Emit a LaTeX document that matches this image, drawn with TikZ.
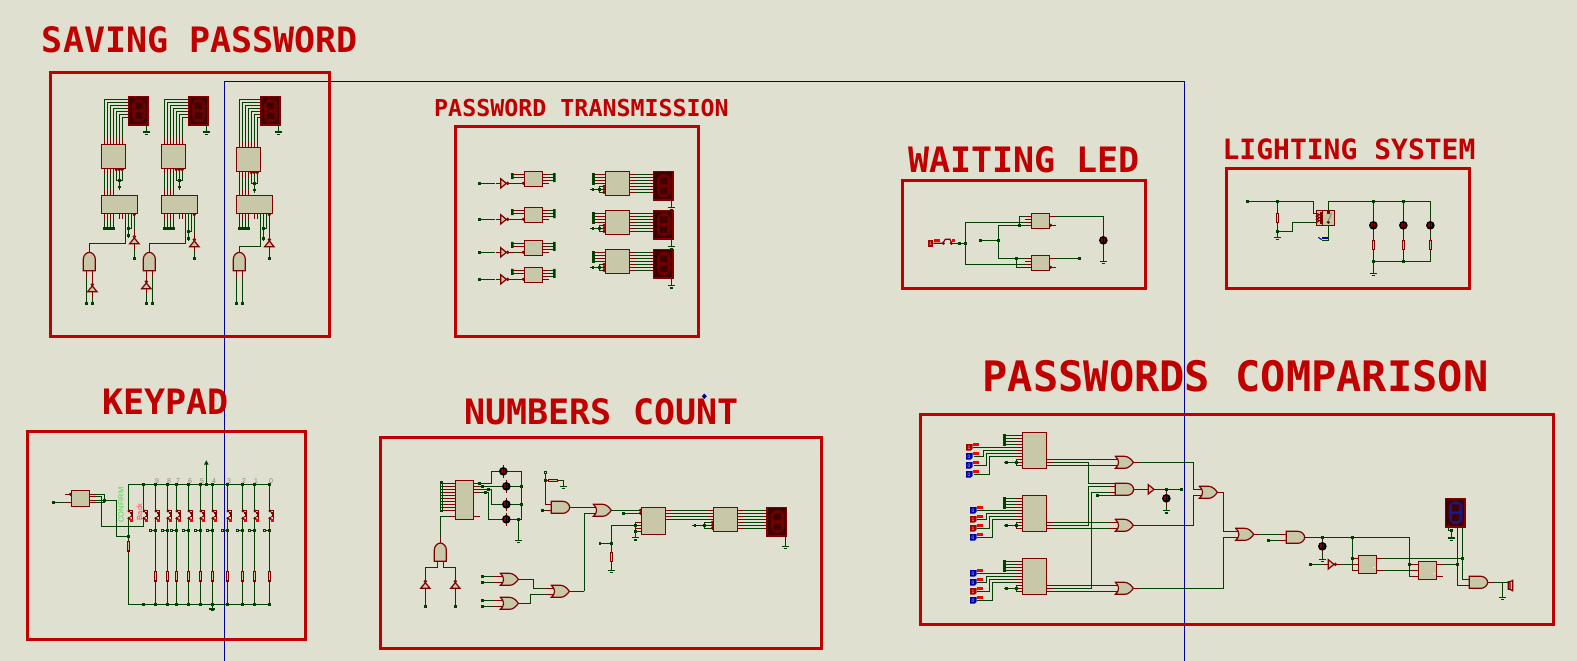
\documentclass[tikz,border=0pt]{standalone}
\usepackage{fontspec}
\newfontfamily\titlefont{DejaVu Sans Mono}
\setsansfont{Liberation Sans}
\usetikzlibrary{fit}
\definecolor{sheet}{RGB}{223,224,208}
\definecolor{framered}{RGB}{192,0,0}
\definecolor{wiregreen}{RGB}{0,64,0}
\definecolor{pinred}{RGB}{128,0,0}
\definecolor{chipfill}{RGB}{200,200,168}
\definecolor{gridblue}{RGB}{0,0,160}
\definecolor{segback}{RGB}{64,0,0}
\definecolor{segred}{RGB}{112,0,0}
\definecolor{segblue}{RGB}{24,24,128}
\definecolor{statblue}{RGB}{0,0,170}
\definecolor{statred}{RGB}{170,0,0}
\definecolor{tabred}{RGB}{255,0,0}
\definecolor{keygrey}{RGB}{125,140,115}
\definecolor{confgreen}{RGB}{70,215,70}
\definecolor{backred}{RGB}{240,70,90}
\tikzset{
  sym/.style={transform shape},
  wire/.style={draw=wiregreen,line width=1.2pt},
  pinline/.style={draw=pinred,line width=1.2pt},
  chip/.style={draw=pinred,fill=chipfill,line width=1.2pt,inner sep=0pt},
  sheetframe/.style={draw=framered,line width=3pt},
  titletext/.style={text=framered,inner sep=0pt},
  bubble/.style={draw=pinred,fill=chipfill,line width=1pt},
  pics/jn/.style={code={\fill[wiregreen] (-4,-4) rectangle (4,4);}},
  pics/gnd/.style={code={\draw[wire] (-11,0) -- (11,0) (-5,7) -- (5,7);}},
  pics/res/.style={code={
    \draw[pinline] (0,-20) -- (0,20);
    \draw[pinline,fill=chipfill] (-3.5,-14) rectangle (3.5,14);}},
  pics/lamp/.style={code={
    \draw[pinline] (0,-20) -- (0,20);
    \fill[black] (0,0) circle (13);
    \fill[pinred] (-6,-6) rectangle (6,6);
    \fill[black] (-1.5,-6) rectangle (1.5,6);}},
  pics/andg/.style={code={
    \draw[pinline] (-18,-9) -- (0,-9) (-18,9) -- (0,9) (55,0) -- (70,0);
    \draw[chip] (0,-18) -- (35,-18) .. controls (46,-18) and (55,-8) .. (55,0)
      .. controls (55,8) and (46,18) .. (35,18) -- (0,18) -- cycle;}},
  pics/org/.style={code={
    \draw[pinline] (-18,-9) -- (8,-9) (-18,9) -- (8,9) (54,0) -- (70,0);
    \draw[chip] (0,-18) -- (28,-18) .. controls (40,-18) and (49,-7) .. (54,0)
      .. controls (49,7) and (40,18) .. (28,18) -- (0,18)
      .. controls (13,8) and (13,-8) .. cycle;}},
  pics/invg/.style={code={
    \draw[pinline] (-15,0) -- (0,0) (25,0) -- (40,0);
    \draw[chip] (0,-14) -- (17,0) -- (0,14) -- cycle;
    \draw[bubble] (21,0) circle (3.5);}},
  pics/bufg/.style={code={
    \draw[pinline] (-15,0) -- (0,0) (17,0) -- (32,0);
    \draw[chip] (0,-14) -- (17,0) -- (0,14) -- cycle;}},
  pics/segdisp/.style={code={
    \draw[pinline,fill=segback] (0,0) rectangle (59,86);
    \fill[#1,rounded corners=7] (11,8) rectangle (52,78);
    \fill[segback] (20,18) rectangle (42,38) (20,48) rectangle (42,68);}},
  pics/keysw/.style={code={
    \fill[sheet] (-3,-10) rectangle (3,5);
    \draw[pinline] (6,-16) -- (13,-16) -- (13,11) -- (6,11);
    \draw[pinline] (5,-8) -- (9,-8) -- (9,3) -- (5,3);
    \draw[bubble] (2,-14) circle (3) (2,8) circle (3);
    \fill[tabred] (6,11) rectangle (14,19);}},
  pics/lstate/.style 2 args={code={
    \fill[#2] (0,-10) -- (20,-10) -- (20,4) -- (14,10) -- (0,10) -- cycle;
    \fill[tabred] (22,-13) rectangle (38,-5);
    \node[text=white!75!#2,font=\sffamily\fontsize{15}{15}\selectfont,inner sep=0pt] (val) at (9,0) {#1};}}
}
\newcommand{\jn}[1]{\foreach \p in {#1} \pic[sym] at \p {jn};}
\newcommand{\stubl}[2]{\foreach \y in {#2} \draw[pinline] ({#1-18},\y) -- (#1,\y);}
\newcommand{\stubr}[2]{\foreach \y in {#2} \draw[pinline] (#1,\y) -- ({#1+18},\y);}
\newcommand{\stubd}[2]{\foreach \x in {#2} \draw[pinline] (\x,{#1}) -- (\x,{#1+18});}
\newcommand{\chipbox}[3]{\node[chip,fit={(#2)(#3)}] (#1) {};}
% one column of the saving block
\newcommand{\savecol}[8]{
\begin{scope}[shift={(#1,0)}]
\foreach \i in {0,...,6} \draw[wire] ({193+9*\i},#2) |- (#8,{118+9*\i});
\foreach \i in {0,...,6} \draw[pinline] ({193+9*\i},{#2-18}) -- ({193+9*\i},#2) (#8,{118+9*\i}) -- ({#8-8},{118+9*\i});
\pic[sym] at (#8,109) {segdisp=segred};
\draw[wire] ({#8+54},195) -- ({#8+54},216);
\pic[sym] at ({#8+54},216) {gnd};
\foreach \x in {193,202,211,220} \draw[wire] (\x,{#2+72}) -- (\x,406) (\x,460) -- (\x,505);
\stubd{#2+72}{193,202,211,220}
\stubd{388}{193,202,211,220}
\stubd{460}{193,202,211,220,238,247}
\fill[wiregreen] (190,501) rectangle (225,509);
\draw[wire] (229,{#2+76}) -- (229,{#2+108}) -- (247,{#2+108}) -- (247,{#2+76}) (238,{#2+76}) -- (238,{#2+136});
\draw[wire] (256,460) -- (256,#3) -- (#7,#3) -- (#7,577);
\draw[wire] (265,460) -- (265,{#5+8}) (274,460) -- (274,#4) -- (265,#4);
\draw[wire] (283,467) -- (283,595);
\chipbox{seta#1}{184,#2}{257,{#2+72}}
\chipbox{setb#1}{184,406}{293,460}
\foreach \x in {229,238,247} \draw[bubble] (\x,{#2+76}) circle (3);
\jn{(238,{#2+108}),(238,{#2+128}),(265,#4),(265,#5)}
\draw[bubble] (283,464) circle (3);
\pic[sym,rotate=90] at (283,#6) {invg};
\pic[sym] at (283,595) {jn};
\draw[wire] ({#7-9},632) -- ({#7-9},730) ({#7+9},632) -- ({#7+9},730);
\pic[sym,rotate=90] at (#7,632) {andg};
\jn{({#7-9},730),({#7+9},730)}
\end{scope}}
% small and large chip rows of the transmission block
\newcommand{\txsmall}[2]{
\begin{scope}[shift={(0,#1)}]
\draw[wire] (88,36) -- (135,36) (176,36) -- (205,36) (297,9) -- (313,9) (297,18) -- (313,18) (297,27) -- (313,27);
\pic[sym] at (152,36) {invg};
\stubl{223}{36}
\draw[pinline] (190,9) -- (223,9) (190,18) -- (223,18) (277,9) -- (297,9) (277,18) -- (297,18) (277,27) -- (297,27) (277,36) -- (297,36);
\chipbox{tx#2}{223,0}{277,45}
\draw[bubble] (220,36) circle (3);
\pic[sym] at (88,36) {jn};
\fill[wiregreen] (183,5) rectangle (191,23) (309,5) rectangle (317,32);
\end{scope}}
\newcommand{\txlarge}[2]{
\begin{scope}[shift={(0,#1)}]
\foreach \y in {9,18,...,63} \draw[wire] (555,\y) -- (610,\y);
\foreach \y in {9,18,...,63} \draw[pinline] (538,\y) -- (555,\y) (600,\y) -- (610,\y);
\draw[pinline] (435,9) -- (466,9) (435,18) -- (466,18) (435,27) -- (466,27) (435,36) -- (466,36);
\draw[wire] (460,45) -- (448,45) -- (448,63) -- (460,63) (420,54) -- (460,54);
\chipbox{dr#2}{466,0}{538,72}
\foreach \y in {45,54,63} \draw[bubble] (462,\y) circle (3);
\fill[wiregreen] (426,5) rectangle (435,40);
\jn{(448,54),(429,54)}
\pic[sym] at (610,0) {segdisp=segred};
\draw[wire] (664,87) -- (664,109);
\pic[sym] at (664,109) {gnd};
\end{scope}}
% comparator chip with its pins
\newcommand{\cmprow}[1]{
\begin{scope}[shift={(0,#1)}]
\foreach \y in {9,18,27,36} \draw[wire] (165,\y) -- (199,\y);
\stubl{217}{9,18,27,36,45,54,63,72,81,90,99}
\draw[wire] (199,81) -- (199,99) (163,90) -- (199,90);
\draw[wire] (290,81) -- (505,81) (290,99) -- (505,99);
\chipbox{cmp#1}{217,0}{290,108}
\stubr{290}{81,90,99}
\fill[wiregreen] (159,5) rectangle (167,41);
\jn{(199,90),(169,90)}
\end{scope}}
\begin{document}
\begin{tikzpicture}[x=1pt,y=-1pt]
\useasboundingbox (0,0) rectangle (1577,661);
\fill[sheet] (0,0) rectangle (1577,661);
\draw[gridblue,line width=1pt] (224.3,661) -- (224.3,81.5) -- (1184.5,81.5) -- (1184.5,661);
% titles
\node[titletext,font=\titlefont\bfseries\fontsize{35}{35}\selectfont] (tsave) at (200,40) {SAVING PASSWORD};
\node[titletext,font=\titlefont\bfseries\fontsize{23.3}{24}\selectfont] (ttrans) at (581.5,108) {PASSWORD TRANSMISSION};
\node[titletext,font=\titlefont\bfseries\fontsize{35}{35}\selectfont] (twait) at (1024,160) {WAITING LED};
\node[titletext,font=\titlefont\bfseries\fontsize{28}{28}\selectfont] (tlight) at (1349,149) {LIGHTING SYSTEM};
\node[titletext,font=\titlefont\bfseries\fontsize{35}{35}\selectfont] (tkeys) at (165.5,402) {KEYPAD};
\node[titletext,font=\titlefont\bfseries\fontsize{35}{35}\selectfont] (tcount) at (601.5,411.5) {NUMBERS COUNT};
\node[titletext,font=\titlefont\bfseries\fontsize{42}{42}\selectfont] (tcomp) at (1235.5,376) {PASSWORDS COMPARISON};
\fill[gridblue] (704.3,393.6) -- (706.8,396.3) -- (704.3,399) -- (701.8,396.3) -- cycle;
% frames
\draw[sheetframe] (50.7,72.7) rectangle (329.3,336.3);
\draw[sheetframe] (455.3,126.3) rectangle (698.3,336.3);
\draw[sheetframe] (902.3,180.3) rectangle (1145.7,288.3);
\draw[sheetframe] (1226.3,168.3) rectangle (1469.4,288.3);
\draw[sheetframe] (27,431) rectangle (305.3,639.7);
\draw[sheetframe] (380.5,437.5) rectangle (821.7,648.7);
\draw[sheetframe] (920.2,414.3) rectangle (1553.8,624.5);
% saving password
\begin{scope}[shift={(40,60)},scale=1/3]
\savecol{0}{253}{550}{505}{527}{551}{148}{265}
\savecol{180}{253}{550}{514}{535}{560}{148}{265}
\savecol{405}{262}{559}{505}{535}{560}{193}{256}
\pic[sym,rotate=90] at (157,695) {invg};
\pic[sym,rotate=90] at (319,686) {invg};
\end{scope}
% password transmission
\begin{scope}[shift={(450,120)},scale=1/3]
\txsmall{154}{a}
\txsmall{262}{b}
\txsmall{361}{c}
\txsmall{442}{d}
\txlarge{154}{a}
\txlarge{271}{b}
\txlarge{388}{c}
\end{scope}
% waiting led
\begin{scope}[shift={(900,170)},scale=1/3]
\draw[wire] (157,220) -- (196,220) (394,157) -- (196,157) -- (196,283) -- (394,283);
\draw[wire] (394,139) -- (358,139) -- (358,166) (394,166) -- (295,166) -- (295,265) -- (394,265) (241,211) -- (295,211);
\draw[wire] (349,265) -- (349,292) -- (394,292);
\draw[wire] (449,139) -- (610,139) -- (610,274) (449,265) -- (538,265);
\stubl{394}{139,148,157,166,265,274,283,292}
\stubr{449}{139,265}
\draw[pinline] (455,166) -- (467,166) (455,292) -- (467,292);
\chipbox{waita}{394,130}{449,176}
\chipbox{waitb}{394,256}{449,302}
\draw[bubble] (452,166) circle (3) (452,292) circle (3);
\jn{(178,220),(196,220),(358,166),(295,211),(241,211),(349,265),(538,265)}
\pic[sym] at (610,211) {lamp};
\pic[sym] at (610,274) {gnd};
\fill[statred] (84,210) rectangle (100,231);
\node[text=white!70!statred,font=\sffamily\fontsize{5}{5}\selectfont,inner sep=0pt] (waitval) at (92,220) {1};
\fill[tabred] (102,207) rectangle (120,216);
\fill[tabred] (156,208) rectangle (165,216);
\draw[pinline] (100,220) -- (127,220) (130,217) -- (136,208) -- (150,208) -- (154,217);
\draw[bubble] (130,220) circle (3) (154,220) circle (3);
\end{scope}
% lighting system
\begin{scope}[shift={(1220,165)},scale=1/3]
\draw[wire] (82,109) -- (280,109) -- (280,145) -- (290,145);
\draw[wire] (172,109) -- (172,217) (172,199) -- (217,199) -- (217,172) -- (289,172);
\draw[wire] (325,136) -- (325,109) -- (631,109) -- (631,289) -- (460,289);
\draw[wire] (460,109) -- (460,325) (550,109) -- (550,289);
\draw[wire] (325,176) -- (325,226) -- (305,226);
\draw[chip] (289,136) rectangle (344,182);
\draw[pinline] (307,136) -- (307,182) (303,141) -- (303,177);
\draw[pinline] (290,145) -- (298,149) -- (290,154) -- (298,158) -- (290,163) -- (298,167) -- (290,172);
\fill[pinred] (321,138) rectangle (329,147);
\draw[bubble] (325,172) circle (3);
\draw[gray,line width=1pt] (325,168) -- (334,145);
\fill[gridblue] (305,216) rectangle (323,221);
\draw[gridblue,line width=1pt] (295,217) -- (305,224);
\jn{(82,109),(172,109),(172,199),(460,109),(550,109),(460,289),(550,289)}
\pic[sym] at (172,159) {res};
\pic[sym] at (172,217) {gnd};
\pic[sym] at (460,325) {gnd};
\foreach \x in {460,550,631} {
  \pic[sym] at (\x,181) {lamp};
  \pic[sym] at (\x,240) {res};
}
\end{scope}
% keypad
\begin{scope}[shift={(25,430)},scale=1/3]
\draw[wire] (85,217) -- (125,217) (212,193) -- (238,193) -- (238,217) -- (212,217);
\draw[wire] (212,199) -- (229,199) -- (229,289) -- (355,289) -- (355,163);
\draw[wire] (212,211) -- (274,211) -- (274,319) -- (310,319);
\draw[wire] (310,523) -- (310,163) -- (733,163) -- (733,523) -- cycle;
\draw[wire] (544,163) -- (544,100) (562,523) -- (562,537);
\fill[wiregreen] (544,91) -- (551,104) -- (537,104) -- cycle;
\draw[wire] (553,537) -- (571,537) (558,541) -- (566,541);
\draw[pinline] (120,193) -- (139,193) (120,217) -- (139,217);
\stubr{194}{193,199,211,217}
\chipbox{keydec}{139,181}{194,229}
\draw[bubble] (136,193) circle (3);
\jn{(85,217),(238,211),(310,319),(355,163),(355,523),(544,163)}
\pic[sym] at (310,349) {res};
\foreach \x/\d in {391/9,427/8,454/7,490/6,526/5,562/4,607/3,652/2,688/1,733/0} {
  \draw[wire] (\x,163) -- (\x,523) ({\x-12},301) -- (\x,301);
  \draw[draw=wiregreen,line width=1pt,fill=sheet] ({\x-14-2.5},298.5) rectangle ({\x-14+2.5},303.5);
  \pic[sym] at (\x,257) {keysw};
  \pic[sym] at (\x,439) {res};
  \pic[sym] at (\x,163) {jn};
  \pic[sym] at (\x,301) {jn};
  \pic[sym] at (\x,523) {jn};
  \node[text=keygrey,font=\sffamily\fontsize{7}{7}\selectfont,inner sep=0pt] (key\d) at ({\x+5},152) {\d};
}
\pic[sym] at (310,257) {keysw};
\pic[sym] at (355,257) {keysw};
\node[text=confgreen,rotate=90,font=\sffamily\fontsize{7.5}{7.5}\selectfont,inner sep=0pt] (conf) at (288,225) {CONFIRM};
\node[text=backred,rotate=90,font=\sffamily\fontsize{7.5}{7.5}\selectfont,inner sep=0pt] (back) at (343,245) {Back};
\end{scope}
% numbers count
\begin{scope}[shift={(380,440)},scale=1/3]
\draw[wire] (181,229) -- (181,310) (298,130) -- (334,130) -- (334,94) -- (424,94) -- (424,238) -- (325,238) -- (325,157) -- (281,157);
\draw[wire] (281,139) -- (424,139) (281,148) -- (334,148) -- (334,193) -- (424,193) (415,238) -- (415,301);
\draw[wire] (181,229) -- (226,229) (172,364) -- (172,382) -- (136,382) -- (136,499) (190,364) -- (190,382) -- (226,382) -- (226,499);
\draw[wire] (496,97) -- (496,193) -- (514,193) (496,121) -- (505,121) (533,121) -- (550,121) -- (550,139);
\draw[wire] (569,202) -- (640,202) (487,211) -- (514,211) (613,454) -- (613,220) -- (640,220) (613,454) -- (568,454);
\draw[wire] (415,418) -- (461,418) -- (461,445) -- (514,445) (415,490) -- (451,490) -- (451,463) -- (514,463);
\foreach \y in {409,427,481,499} \draw[wire] (307,\y) -- (361,\y);
\foreach \y in {130,139,...,211} \draw[pinline] (188,\y) -- (226,\y);
\draw[pinline] (208,229) -- (226,229) (281,229) -- (300,229) (281,130) -- (300,130) (281,139) -- (300,139) (281,148) -- (300,148) (281,157) -- (300,157);
\chipbox{cnt}{226,121}{281,239}
\draw[wire,fill=sheet] (181,126) rectangle (188,215);
\foreach \y in {130,139,...,211} \draw[wire] (181,\y) -- (188,\y);
\jn{(298,130),(307,139),(325,148),(316,157),(424,139),(424,193),(415,238),(136,499),(226,499),(496,121),(487,211),(307,409),(307,427),(307,481),(307,499)}
\pic[sym] at (415,301) {gnd};
\pic[sym] at (550,139) {gnd};
\draw[wire,fill=sheet] (493,94) rectangle (499,100);
\pic[sym] at (370,94) {lamp};
\pic[sym] at (379,139) {lamp};
\pic[sym] at (379,193) {lamp};
\pic[sym] at (379,238) {lamp};
\pic[sym,rotate=90] at (181,364) {andg};
\pic[sym,rotate=90] at (136,445) {invg};
\pic[sym,rotate=90] at (226,445) {invg};
\pic[sym,rotate=90] at (519,121) {res};
\pic[sym] at (514,202) {andg};
\pic[sym] at (640,211) {org};
\pic[sym] at (514,454) {org};
\pic[sym] at (361,418) {org};
\pic[sym] at (361,490) {org};
\end{scope}
\begin{scope}[shift={(600,470)},scale=1/3]
\draw[wire] (34,121) -- (118,121) (70,130) -- (118,130);
\draw[wire] (106,166) -- (34,166) -- (34,301) (0,220) -- (34,220) (106,157) -- (106,203);
\foreach \y in {121,130,139,148} \draw[wire] (197,\y) -- (340,\y);
\stubr{197}{121,130,139,148}
\foreach \y in {121,130,...,175} \draw[wire] (412,\y) -- (502,\y);
\stubr{412}{121,130,...,175}
\foreach \y in {121,130,...,175} \draw[pinline] (490,\y) -- (502,\y);
\draw[pinline] (322,121) -- (340,121) (322,130) -- (340,130) (322,139) -- (340,139) (322,148) -- (340,148);
\draw[pinline] (106,157) -- (124,157) (106,166) -- (124,166) (106,175) -- (124,175) (106,184) -- (124,184);
\draw[wire] (313,157) -- (335,157) (313,175) -- (335,175) (313,157) -- (313,175) (277,166) -- (335,166);
\chipbox{cnta}{124,112}{197,193}
\chipbox{cntb}{340,112}{412,184}
\draw[bubble] (121,121) circle (3) (121,130) circle (3);
\foreach \y in {157,166,175} \draw[bubble] (337,\y) circle (3);
\jn{(70,130),(106,166),(106,184),(34,220),(0,220),(313,166),(285,166)}
\pic[sym] at (34,261) {res};
\pic[sym] at (34,301) {gnd};
\pic[sym] at (106,203) {gnd};
\pic[sym] at (501,112) {segdisp=segred};
\draw[wire] (556,200) -- (556,229);
\pic[sym] at (556,229) {gnd};
\end{scope}
% passwords comparison
\begin{scope}[shift={(950,420)},scale=1/3]
\draw[wire] (68,82) -- (217,82) (72,109) -- (100,109) -- (100,91) -- (217,91) (72,136) -- (109,136) -- (109,100) -- (217,100) (72,163) -- (118,163) -- (118,109) -- (217,109);
\draw[wire] (80,271) -- (217,271) (80,298) -- (109,298) -- (109,280) -- (217,280) (80,325) -- (118,325) -- (118,289) -- (217,289) (80,352) -- (127,352) -- (127,298) -- (217,298);
\draw[wire] (80,460) -- (217,460) (80,487) -- (109,487) -- (109,469) -- (217,469) (80,514) -- (118,514) -- (118,478) -- (217,478) (80,541) -- (127,541) -- (127,487) -- (217,487);
\draw[wire] (290,127) -- (415,127) -- (415,190) -- (496,190) (290,316) -- (415,316) -- (415,199) -- (496,199);
\draw[wire] (290,505) -- (424,505) -- (424,217) -- (496,217) (442,226) -- (496,226);
\draw[wire] (550,127) -- (730,127) -- (730,208) -- (748,208) (550,316) -- (730,316) -- (730,226) -- (748,226);
\draw[wire] (801,217) -- (820,217) -- (820,334) -- (857,334) (550,505) -- (820,505) -- (820,352) -- (857,352);
\draw[wire] (551,208) -- (595,208) (612,208) -- (695,208) (649,208) -- (649,272);
\cmprow{37}
\cmprow{226}
\cmprow{415}
\pic[sym] at (496,127) {org};
\pic[sym] at (496,316) {org};
\pic[sym] at (496,505) {org};
\pic[sym] at (748,217) {org};
\draw[pinline] (478,190) -- (496,190) (478,199) -- (496,199) (478,217) -- (496,217) (478,226) -- (496,226);
\draw[chip] (496,190) -- (532,190) .. controls (543,190) and (551,200) .. (551,208) .. controls (551,216) and (543,226) .. (532,226) -- (496,226) -- cycle;
\pic[sym] at (595,208) {bufg};
\jn{(442,226),(649,208),(695,208)}
\pic[sym] at (649,235) {lamp};
\pic[sym] at (649,272) {gnd};
\pic[sym] at (48,82) {lstate={1}{statred}};
\pic[sym] at (48,109) {lstate={0}{statblue}};
\pic[sym] at (48,136) {lstate={0}{statblue}};
\pic[sym] at (48,163) {lstate={0}{statblue}};
\pic[sym] at (60,271) {lstate={0}{statblue}};
\pic[sym] at (60,298) {lstate={1}{statred}};
\pic[sym] at (60,325) {lstate={1}{statred}};
\pic[sym] at (60,352) {lstate={0}{statblue}};
\pic[sym] at (60,460) {lstate={0}{statblue}};
\pic[sym] at (60,487) {lstate={0}{statblue}};
\pic[sym] at (60,514) {lstate={1}{statred}};
\pic[sym] at (60,541) {lstate={0}{statblue}};
\end{scope}
\begin{scope}[shift={(1200,470)},scale=1/3]
\draw[wire] (160,193) -- (259,193) (205,211) -- (259,211);
\draw[wire] (314,202) -- (628,202) -- (628,319) -- (655,319) (367,202) -- (367,268);
\draw[wire] (457,202) -- (457,301) -- (475,301) (457,265) -- (475,265);
\draw[wire] (331,283) -- (385,283) (410,283) -- (475,283);
\draw[wire] (530,265) -- (787,265) (530,301) -- (655,301) (628,283) -- (655,283) (710,283) -- (772,283);
\draw[wire] (745,170) -- (745,181) -- (754,181) -- (754,204);
\draw[wire] (772,170) -- (772,346) -- (808,346) (787,170) -- (787,328) -- (808,328);
\draw[wire] (863,337) -- (925,337) (908,337) -- (908,382);
\stubr{530}{265,301}
\stubr{710}{283,319}
\stubl{475}{265,283,301}
\stubl{655}{283,301,319}
\chipbox{latcha}{475,256}{530,311}
\chipbox{latchb}{655,274}{710,329}
\fill[white] (519,291) rectangle (525,293) (699,309) rectangle (705,311);
\jn{(205,211),(367,202),(457,202),(457,265),(628,283),(787,265),(772,283),(754,181),(331,283)}
\pic[sym] at (107,193) {org};
\pic[sym] at (259,202) {andg};
\pic[sym] at (808,337) {andg};
\pic[sym] at (385,283) {invg};
\pic[sym] at (367,229) {lamp};
\pic[sym] at (367,268) {gnd};
\pic[sym] at (754,204) {gnd};
\pic[sym] at (908,382) {gnd};
\pic[sym] at (736,85) {segdisp=segblue};
\draw[pinline,fill=chipfill] (925,335) rectangle (930,358) (930,335) -- (938,331) -- (938,362) -- (930,358);
\end{scope}
\end{tikzpicture}
\end{document}
